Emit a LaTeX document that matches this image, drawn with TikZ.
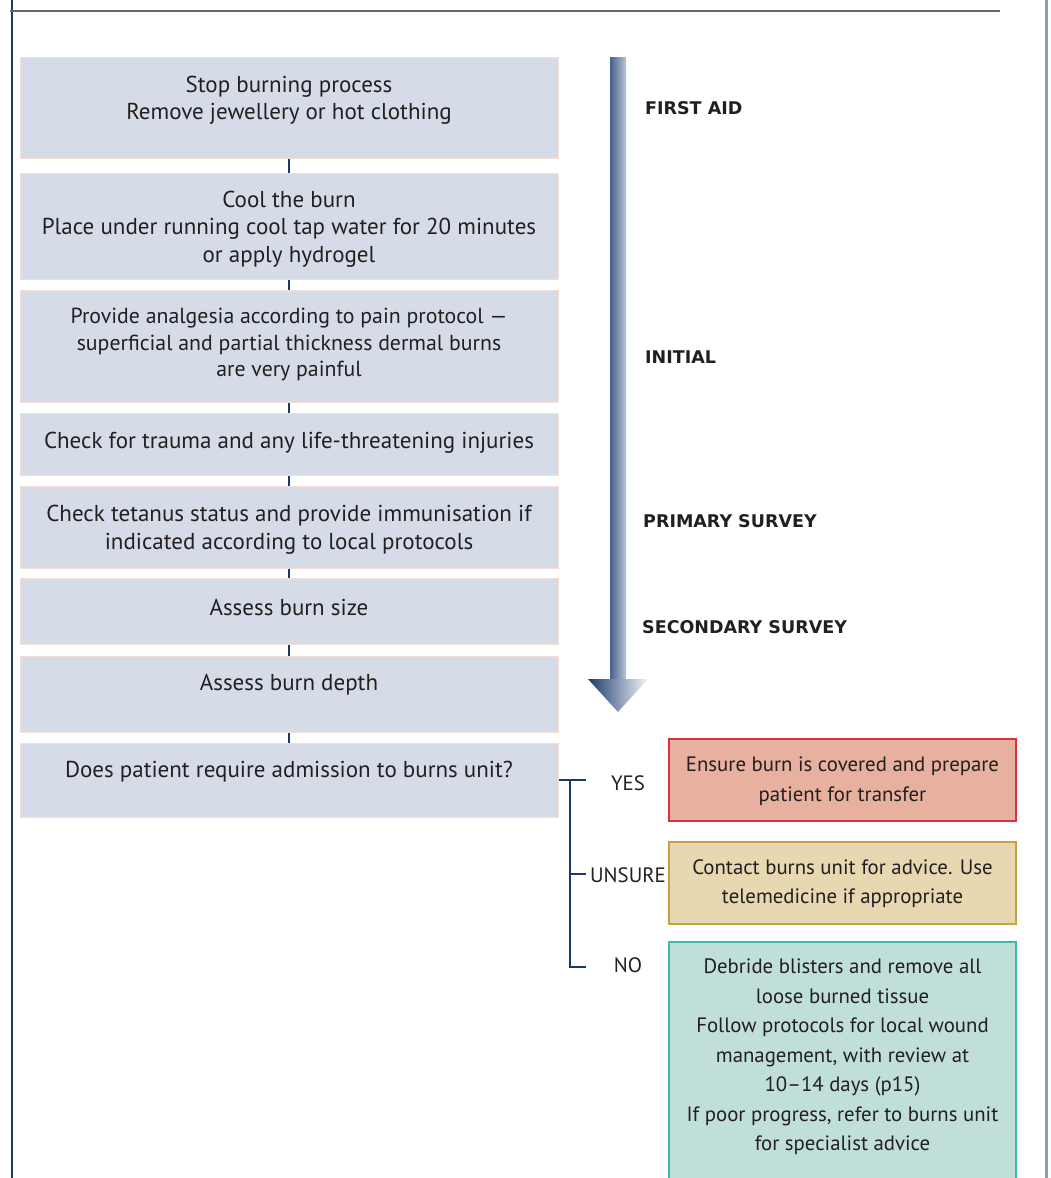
\documentclass[tikz,border=0pt]{standalone}
\usepackage{fontspec}
\setmainfont{PT Sans}
\newfontfamily\phasefont{DejaVu Sans}
\usepackage{tikz}
\usepackage{xcolor}
\definecolor{navy}{HTML}{1B3A6B}
\definecolor{ink}{HTML}{231F20}
\definecolor{stepfill}{HTML}{D6DCE7}
\definecolor{stepedge}{HTML}{F3DDD6}
\definecolor{redfill}{HTML}{E8B09F}
\definecolor{rededge}{HTML}{D7333F}
\definecolor{sandfill}{HTML}{E7D8B2}
\definecolor{sandedge}{HTML}{C8A043}
\definecolor{tealfill}{HTML}{C0DFD8}
\definecolor{tealedge}{HTML}{3DBBAA}
\definecolor{shaftdark}{HTML}{46618D}
\definecolor{shaftlight}{HTML}{B9C5D7}
\definecolor{framegrey}{HTML}{8A9DBA}

\begin{document}
\begin{tikzpicture}[x=1pt,y=-1pt]
\tikzset{
    stepbox/.style={%
        draw=stepedge, fill=stepfill, line width=1pt,
        rectangle,
        inner sep=0pt,
        minimum width=538pt
        },
    steptext/.style={%
        text=ink, align=center, inner sep=0pt,
        font=\fontsize{23}{27.5}\selectfont
        },
    outbox/.style={%
        line width=1.2pt,
        rectangle,
        inner sep=0pt,
        minimum width=347pt
        },
    outtext/.style={%
        text=ink, align=center, inner sep=0pt,
        font=\fontsize{20.8}{29.5}\selectfont
        },
    answer/.style={%
        text=ink, inner sep=0pt,
        font=\fontsize{20.8}{24}\selectfont
        },
    phase/.style={%
        text=ink, anchor=west, inner sep=0pt,
        font=\phasefont\fontsize{17.5}{21}\bfseries
        },
    link/.style={draw=navy, line width=2pt},
    fork/.style={draw=navy, line width=2.5pt},
}
\useasboundingbox (0,0) rectangle (1050,1178);
%%%FRAME
\draw[navy, line width=2pt] (12,0) -- (12,1178);
\draw[framegrey, line width=3pt] (1046,0) -- (1046,1178);
\draw[black!60, line width=2pt] (10,11) -- (1000,11);
%%%STEPS
\node[stepbox, minimum height=101pt] (aid) at (289,107.5) {};
\node[stepbox, minimum height=106pt] (cool) at (289,226) {};
\node[stepbox, minimum height=112pt] (pain) at (289,346) {};
\node[stepbox, minimum height=62pt] (trauma) at (289,444) {};
\node[stepbox, minimum height=82pt] (tetanus) at (289,527) {};
\node[stepbox, minimum height=66pt] (size) at (289,611) {};
\node[stepbox, minimum height=76pt] (depth) at (289,694) {};
\node[stepbox, minimum height=74pt] (query) at (289,780) {};
\node[steptext] (aidtext) at (289,100) {Stop burning process\\Remove jewellery or hot clothing};
\node[steptext] (cooltext) at (289,229) {Cool the burn\\Place under running cool tap water for 20 minutes\\or apply hydrogel};
\node[steptext, font=\fontsize{21.8}{26.5}\selectfont] (paintext) at (289,345) {Provide analgesia according to pain protocol ---\\superficial and partial thickness dermal burns\\are very painful};
\node[steptext] (traumatext) at (289,443) {Check for trauma and any life-threatening injuries};
\node[steptext] (tetanustext) at (289,529.5) {Check tetanus status and provide immunisation if\\indicated according to local protocols};
\node[steptext] (sizetext) at (289,607) {Assess burn size};
\node[steptext] (depthtext) at (289,685) {Assess burn depth};
\node[steptext] (querytext) at (289,772) {Does patient require admission to burns unit?};
%%%LINKS
\draw[link] (aid.south) -- (cool.north);
\draw[link] (cool.south) -- (pain.north);
\draw[link] (pain.south) -- (trauma.north);
\draw[link] (trauma.south) -- (tetanus.north);
\draw[link] (tetanus.south) -- (size.north);
\draw[link] (size.south) -- (depth.north);
\draw[link] (depth.south) -- (query.north);
%%%PHASE ARROW
\shade[left color=shaftdark, right color=shaftlight] (610,57) rectangle (626,680);
\shade[left color=navy, right color=white!85!shaftlight] (588,679) -- (648,679) -- (618,712) -- cycle;
\node[phase] (firstaid) at (645,108) {FIRST AID};
\node[phase] (initial) at (645,357) {INITIAL};
\node[phase] (primary) at (643,521) {PRIMARY SURVEY};
\node[phase] (secondary) at (642,627) {SECONDARY SURVEY};
%%%OUTCOMES
\coordinate (spine) at (570,780);
\coordinate (yesend) at (586,780);
\coordinate (unsureend) at (586,874);
\coordinate (noend) at (586,967);
\draw[fork] (query.east) -- (yesend);
\draw[fork] (spine) |- (noend);
\draw[fork] (spine |- unsureend) -- (unsureend);
\node[answer] (yes) at (628,783) {YES};
\node[answer] (unsure) at (628,875) {UNSURE};
\node[answer] (no) at (628,965) {NO};
\node[outbox, draw=rededge, fill=redfill, minimum height=82pt] (transfer) at (842.5,780) {};
\node[outbox, draw=sandedge, fill=sandfill, minimum height=82pt] (advice) at (842.5,883) {};
\node[outbox, draw=tealedge, fill=tealfill, minimum height=260pt] (wound) at (842.5,1072) {};
\node[outtext] (transfertext) at (842.5,781) {Ensure burn is covered and prepare\\patient for transfer};
\node[outtext] (advicetext) at (842.5,883.5) {Contact burns unit for advice. Use\\telemedicine if appropriate};
\node[outtext] (woundtext) at (842.5,1057) {Debride blisters and remove all\\loose burned tissue\\Follow protocols for local wound\\management, with review at\\10--14 days (p15)\\If poor progress, refer to burns unit\\for specialist advice};
\end{tikzpicture}
\end{document}
